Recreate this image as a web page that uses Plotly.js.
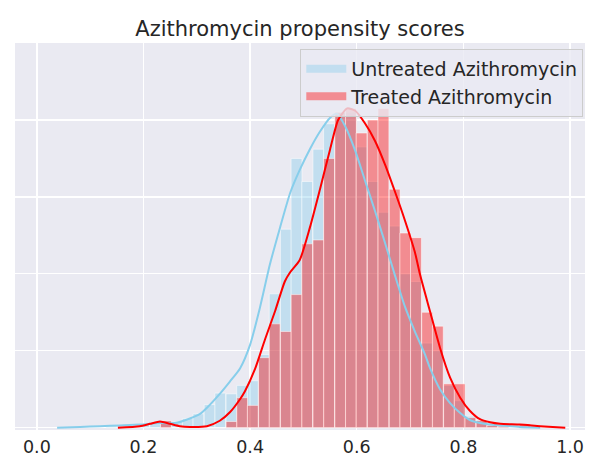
<!DOCTYPE html>
<html>
<head>
<meta charset="utf-8">
<script src="https://cdn.plot.ly/plotly-3.0.1.min.js"></script>
<style>html,body{margin:0;padding:0;background:#fff;}#chart{width:589px;height:462px;}</style>
</head>
<body>
<div id="chart"></div>
<script>
// Histogram bin centres (width 0.0204) and density heights
var binWidth = 0.0204;
var untreatedBins = [0.140,0.161,0.181,0.201,0.222,0.242,0.263,0.283,0.303,0.324,0.344,0.365,0.385,0.405,0.426,0.446,0.467,0.487,0.507,0.528,0.548,0.569,0.589,0.609,0.630,0.650,0.671,0.691,0.711,0.732,0.752,0.773,0.793,0.813,0.834,0.854,0.875,0.895];
var untreatedHeights = [0.02,0.02,0.03,0.05,0.05,0.09,0.08,0.12,0.18,0.30,0.45,0.44,0.55,0.61,0.95,1.74,2.58,3.50,3.20,3.62,3.95,4.10,4.10,3.65,3.20,2.80,2.62,2.00,1.90,1.10,1.00,0.55,0.35,0.15,0.10,0.05,0.02,0.01];
var treatedBins = [0.242,0.263,0.283,0.303,0.324,0.344,0.365,0.385,0.405,0.426,0.446,0.467,0.487,0.507,0.528,0.548,0.569,0.589,0.609,0.630,0.650,0.671,0.691,0.711,0.732,0.752,0.773,0.793,0.813,0.834,0.854,0.875,0.895,0.915];
var treatedHeights = [0.09,0,0,0,0,0,0.08,0.39,0.29,0.91,1.35,1.25,1.73,2.39,2.44,3.50,4.10,4.15,3.83,4.00,4.15,3.10,2.53,2.47,1.50,1.32,0.57,0.57,0.13,0.09,0.03,0.02,0,0.05];

// KDE curves
var untreatedKdeX = [0.038,0.081,0.118,0.156,0.193,0.231,0.259,0.287,0.306,0.319,0.343,0.362,0.381,0.400,0.418,0.437,0.456,0.475,0.493,0.512,0.531,0.550,0.563,0.578,0.597,0.615,0.634,0.653,0.672,0.690,0.709,0.728,0.737,0.756,0.775,0.794,0.812,0.831,0.850,0.869,0.906,0.944];
var untreatedKdeY = [0,0.01,0.02,0.03,0.04,0.06,0.06,0.12,0.18,0.26,0.44,0.60,0.77,1.08,1.55,2.12,2.60,3.05,3.35,3.62,3.85,4.03,4.08,3.92,3.60,3.22,2.82,2.40,1.97,1.58,1.25,0.95,0.78,0.50,0.32,0.19,0.10,0.06,0.04,0.03,0.01,0];
var treatedKdeX = [0.152,0.193,0.212,0.231,0.250,0.268,0.287,0.319,0.343,0.362,0.381,0.390,0.409,0.428,0.447,0.465,0.475,0.493,0.512,0.531,0.550,0.565,0.582,0.597,0.615,0.634,0.653,0.672,0.690,0.709,0.719,0.737,0.756,0.775,0.794,0.812,0.831,0.850,0.869,0.906,0.944,0.991];
var treatedKdeY = [0,0.02,0.05,0.08,0.05,0.02,0.01,0.02,0.09,0.20,0.37,0.47,0.76,1.15,1.52,1.90,2.02,2.18,2.60,3.10,3.62,4.00,4.15,4.12,3.96,3.73,3.42,3.06,2.70,2.28,1.98,1.52,1.04,0.65,0.39,0.22,0.11,0.07,0.05,0.04,0.02,0];

var xTicks = [0.0,0.2,0.4,0.6,0.8,1.0];
var xTickText = ['0.0','0.2','0.4','0.6','0.8','1.0'];
var names = ['Untreated Azithromycin','Treated Azithromycin'];

var blueFill = 'rgba(135,206,235,0.4)';
var redFill = 'rgba(255,0,0,0.4)';

var traces = [
  {type:'bar', x:untreatedBins, y:untreatedHeights, width:binWidth, marker:{color:blueFill, line:{color:'rgba(255,255,255,0.5)', width:1}}, showlegend:false, hoverinfo:'skip'},
  {type:'scatter', mode:'lines', x:untreatedKdeX, y:untreatedKdeY, line:{color:'#87CEEB', width:2, shape:'spline', smoothing:0.6}, showlegend:false, hoverinfo:'skip'},
  {type:'bar', x:treatedBins, y:treatedHeights, width:binWidth, marker:{color:redFill, line:{color:'rgba(255,255,255,0.5)', width:1}}, showlegend:false, hoverinfo:'skip'},
  {type:'scatter', mode:'lines', x:treatedKdeX, y:treatedKdeY, line:{color:'#FF0000', width:2, shape:'spline', smoothing:0.6}, showlegend:false, hoverinfo:'skip'},
  {type:'scatter', mode:'lines', x:[null], y:[null], name:names[0], line:{color:blueFill, width:8}},
  {type:'scatter', mode:'lines', x:[null], y:[null], name:names[1], line:{color:redFill, width:8}}
];

var layout = {
  width:589, height:462,
  margin:{l:15, r:4, t:43, b:32},
  paper_bgcolor:'#ffffff', plot_bgcolor:'#EAEAF2',
  barmode:'overlay', bargap:0,
  font:{family:'DejaVu Sans', color:'#262626'},
  title:{text:'Azithromycin propensity scores', font:{size:21, color:'#262626', family:'DejaVu Sans'}, xref:'paper', x:0.5, xanchor:'center', yref:'container', y:0.939, yanchor:'middle'},
  xaxis:{range:[-0.041,1.028], tickvals:xTicks, ticktext:xTickText, showgrid:true, gridcolor:'#ffffff', gridwidth:1.3, zeroline:false, showline:false, ticks:'', ticklabelstandoff:4, tickfont:{size:17.5, color:'#262626'}},
  yaxis:{range:[-0.03,5.0], tick0:0, dtick:1, showticklabels:false, showgrid:true, gridcolor:'#ffffff', gridwidth:1.3, zeroline:false, showline:false, ticks:''},
  legend:{x:0.997, y:0.985, xanchor:'right', yanchor:'top', itemwidth:40, bgcolor:'rgba(234,234,242,0.8)', bordercolor:'#cccccc', borderwidth:1, font:{size:19, color:'#262626'}, tracegroupgap:0}
};

Plotly.newPlot('chart', traces, layout, {staticPlot:true, displayModeBar:false});
</script>
</body>
</html>
